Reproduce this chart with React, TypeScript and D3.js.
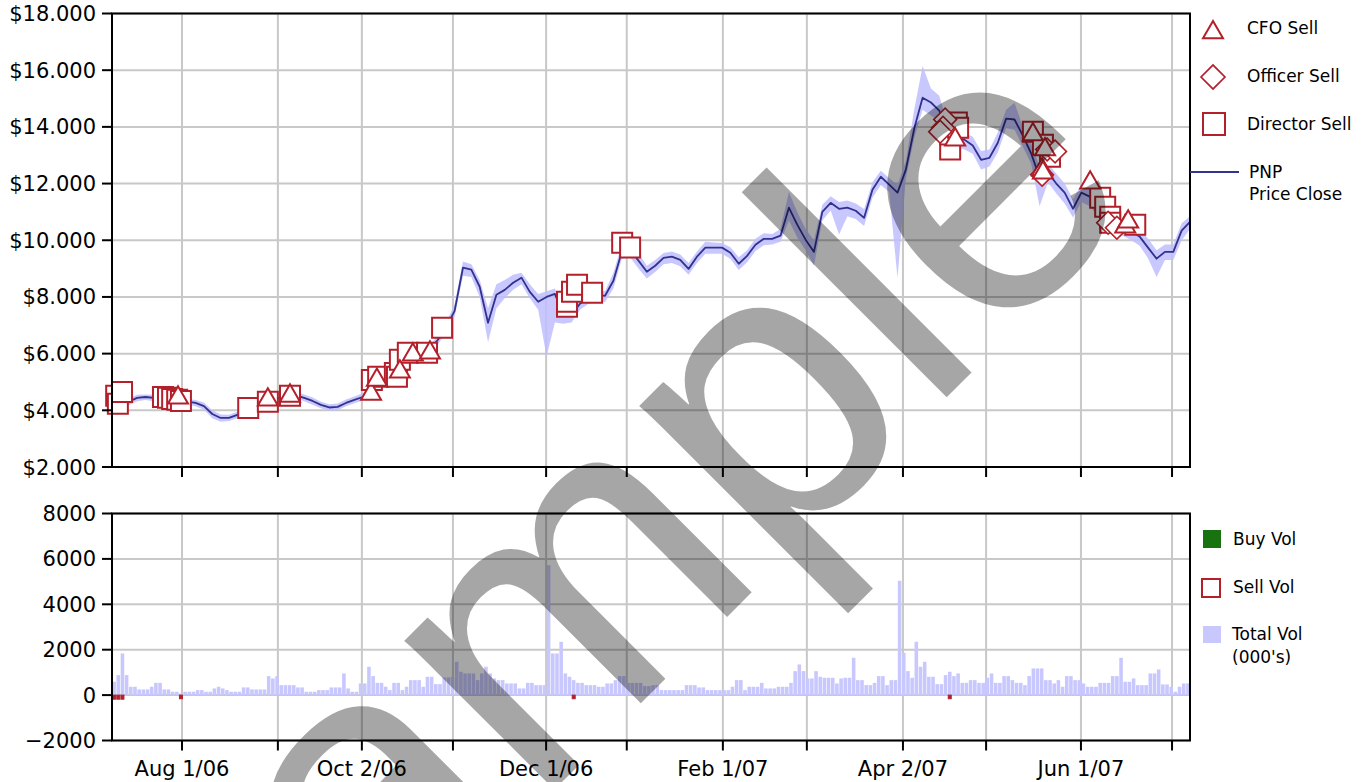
import React from 'react';
import * as d3 from 'd3';

// ---------- DATA ----------
const TOTAL_DAYS = 258; // trading days on the x axis

// month gridlines (trading-day index) and their labels
const monthTickDays = [16.75, 39.7, 59.8, 81.6, 103.9, 123.2, 146.2, 166.3, 189.3, 209.2, 231.9, 253.7];
const monthTickLabels = ['Aug 1/06', '', 'Oct 2/06', '', 'Dec 1/06', '', 'Feb 1/07', '', 'Apr 2/07', '', 'Jun 1/07', ''];

const priceTicks = [2, 4, 6, 8, 10, 12, 14, 16, 18];
const volumeTicks = [-2000, 0, 2000, 4000, 6000, 8000];

// close price sampled every 2 trading days
const PRICE_STEP = 2;
const closePrices = [
  4.14, 4.30, 4.30, 4.44, 4.47, 4.44, 4.37, 4.33, 4.33, 4.31,
  4.26, 4.15, 3.87, 3.73, 3.73, 3.84, 3.91, 3.98, 4.12, 4.30,
  4.44, 4.47, 4.53, 4.44, 4.33, 4.19, 4.10, 4.12, 4.26, 4.37,
  4.47, 4.72, 5.11, 5.25, 5.46, 5.67, 5.89, 5.99, 6.13, 6.49,
  6.94, 7.51, 9.03, 8.96, 8.36, 7.09, 8.08, 8.25, 8.50, 8.68,
  8.18, 7.83, 8.00, 8.11, 7.37, 7.37, 7.76, 7.97, 8.08, 8.04,
  8.57, 9.59, 9.66, 9.28, 8.89, 9.10, 9.38, 9.42, 9.31, 8.99,
  9.42, 9.74, 9.74, 9.74, 9.56, 9.17, 9.45, 9.84, 10.05, 10.05,
  10.16, 11.15, 10.55, 10.02, 9.59, 11.00, 11.32, 11.11, 11.15, 11.04,
  10.79, 11.78, 12.24, 11.96, 11.68, 12.49, 13.94, 15.03, 14.86, 14.57,
  13.76, 13.62, 13.55, 13.34, 12.84, 12.91, 13.44, 14.29, 14.26, 13.69,
  13.06, 12.21, 12.38, 12.00, 11.68, 11.11, 11.68, 11.54, 11.18, 10.90,
  10.62, 10.44, 10.30, 10.12, 9.73, 9.35, 9.59, 9.59, 10.34, 10.65,
];
const highPrices = [
  4.25, 4.40, 4.42, 4.55, 4.56, 4.55, 4.48, 4.43, 4.42, 4.40,
  4.36, 4.28, 4.00, 3.85, 3.84, 3.95, 4.02, 4.10, 4.24, 4.42,
  4.55, 4.58, 4.64, 4.56, 4.45, 4.30, 4.21, 4.24, 4.38, 4.49,
  4.60, 4.85, 5.25, 5.38, 5.60, 5.80, 6.02, 6.12, 6.27, 6.65,
  7.10, 7.75, 9.25, 9.15, 8.60, 7.60, 8.45, 8.60, 8.78, 8.85,
  8.45, 8.10, 8.20, 8.30, 7.60, 7.55, 7.95, 8.15, 8.25, 8.20,
  8.85, 9.85, 9.85, 9.55, 9.10, 9.30, 9.55, 9.60, 9.50, 9.20,
  9.60, 9.95, 9.92, 9.90, 9.75, 9.40, 9.65, 10.05, 10.25, 10.22,
  10.40, 11.70, 11.00, 10.40, 10.00, 11.25, 11.55, 11.35, 11.40, 11.30,
  11.10, 12.05, 12.45, 12.20, 11.95, 12.80, 14.60, 16.15, 15.35, 15.10,
  14.10, 13.90, 13.80, 13.65, 13.15, 13.20, 13.80, 14.60, 14.85, 14.00,
  13.40, 12.60, 12.70, 12.35, 12.00, 11.45, 11.95, 11.80, 11.45, 11.15,
  10.90, 10.70, 10.55, 10.40, 10.05, 9.65, 9.85, 9.85, 10.60, 10.85,
];
const lowPrices = [
  4.02, 4.18, 4.18, 4.32, 4.36, 4.32, 4.25, 4.21, 4.22, 4.20,
  4.14, 4.02, 3.72, 3.60, 3.62, 3.72, 3.80, 3.86, 4.00, 4.18,
  4.32, 4.36, 4.42, 4.32, 4.20, 4.07, 3.98, 4.00, 4.14, 4.25,
  4.35, 4.60, 4.95, 5.12, 5.32, 5.52, 5.75, 5.86, 6.00, 6.32,
  6.75, 7.30, 8.75, 8.70, 8.00, 6.40, 7.60, 7.95, 8.25, 8.45,
  7.95, 7.55, 5.90, 7.10, 7.05, 7.10, 7.55, 7.75, 7.85, 7.82,
  8.30, 9.35, 9.40, 9.00, 8.65, 8.88, 9.15, 9.20, 9.08, 8.78,
  9.20, 9.52, 9.52, 9.52, 9.35, 8.95, 9.22, 9.62, 9.82, 9.85,
  9.95, 10.70, 10.10, 9.65, 9.10, 10.70, 11.05, 10.20, 10.85, 10.75,
  10.50, 11.50, 11.95, 11.70, 8.67, 12.20, 13.60, 14.60, 14.40, 14.20,
  13.40, 13.30, 13.20, 13.05, 12.50, 12.60, 13.10, 13.95, 13.90, 13.30,
  12.70, 11.20, 12.05, 11.65, 11.30, 10.80, 11.35, 11.20, 10.85, 10.60,
  10.30, 10.15, 10.00, 9.80, 9.35, 8.70, 9.30, 9.30, 10.00, 10.40,
];

// total daily volume (000's), one per trading day
const totalVolume = [
  590, 880, 1835, 880, 367, 367, 250, 250, 250, 367,
  540, 540, 250, 250, 147, 147, 73, 147, 147, 147,
  220, 220, 147, 147, 294, 367, 294, 220, 147, 147,
  147, 338, 338, 250, 250, 250, 250, 837, 734, 837,
  440, 440, 440, 440, 338, 338, 147, 147, 147, 220,
  220, 220, 338, 338, 338, 954, 294, 147, 147, 514,
  514, 1248, 837, 540, 540, 367, 220, 540, 540, 220,
  367, 660, 660, 660, 367, 807, 807, 484, 484, 778,
  778, 807, 1468, 1028, 954, 954, 954, 660, 954, 1248,
  954, 734, 660, 660, 514, 514, 514, 294, 294, 540,
  540, 440, 440, 440, 5725, 1835, 1835, 2350, 954, 807,
  660, 540, 540, 440, 440, 440, 367, 367, 514, 514,
  660, 837, 837, 540, 540, 540, 540, 400, 400,
  440, 440, 220, 220, 220, 220, 220, 220, 440, 440,
  440, 338, 338, 220, 220, 220, 220, 220, 220, 367,
  660, 660, 220, 367, 367, 367, 540, 294, 294, 294,
  367, 367, 367, 540, 1057, 1350, 1057, 734, 734, 1057,
  807, 763, 763, 763, 514, 734, 763, 763, 1644, 660,
  660, 440, 440, 540, 837, 837, 440, 660, 660, 5035,
  1864, 1057, 763, 2350, 1248, 1468, 807, 807, 484, 484,
  880, 1028, 837, 954, 540, 540, 660, 660, 540, 540,
  763, 954, 540, 540, 837, 837, 660, 540, 540, 440,
  837, 1174, 1174, 1174, 660, 660, 514, 660, 367, 837,
  837, 660, 660, 514, 367, 367, 367, 540, 540, 540,
  837, 837, 1644, 587, 587, 734, 440, 440, 440, 954,
  954, 1130, 470, 470, 367, 147, 367, 514, 514,
];
const sellVolumeDays = [0, 1, 2, 16, 110, 200];
const sellVolumeValues = [180, 180, 180, 160, 160, 160];

// insider transactions: [trading day, price]
const directorSells: [number, number][] = [
  [1.0, 4.51], [1.4, 4.23], [2.4, 4.65], [12.2, 4.47], [13.4, 4.44], [14.4, 4.40], [15.6, 4.37], [16.5, 4.33],
  [32.6, 4.08], [37.3, 4.30], [42.6, 4.51], [62.2, 5.07], [63.7, 5.18], [67.7, 5.32], [68.2, 5.18], [68.9, 5.78],
  [70.8, 6.03], [75.4, 6.03], [79.0, 6.91], [108.9, 7.65], [108.9, 7.83], [110.1, 8.18], [111.3, 8.43], [114.9, 8.15],
  [122.1, 9.91], [124.0, 9.74], [200.6, 13.20], [200.6, 13.73], [202.2, 14.15], [202.5, 13.97], [220.4, 13.83],
  [222.8, 13.37], [224.5, 12.95], [236.5, 11.50], [237.7, 11.18], [238.9, 10.83], [238.9, 10.62], [244.9, 10.55],
];
const officerSells: [number, number][] = [
  [199.4, 14.26], [198.9, 13.97], [198.2, 13.83], [223.8, 13.20], [225.7, 13.13], [222.6, 12.31], [238.4, 10.62], [240.5, 10.44],
];
const cfoSells: [number, number][] = [
  [15.8, 4.44], [37.3, 4.37], [42.6, 4.51], [62.0, 4.58], [63.4, 5.07], [68.9, 5.36], [72.0, 5.96], [76.1, 6.03],
  [201.8, 13.55], [220.4, 13.73], [223.3, 13.20], [222.6, 12.49], [222.8, 12.38], [234.1, 12.03], [242.5, 10.48], [243.2, 10.65],
];

// ---------- STYLE ----------
const RED = '#b3202b';
const NAVY = '#31318e';
const GRID = '#c8c8c8';
const VOL_FILL = '#c8c8ff';
const FONT = 'DejaVu Sans, Verdana, sans-serif';

export default function App() {
  const L = 112, R = 1190;
  const x = d3.scaleLinear().domain([0, TOTAL_DAYS]).range([L, R]);
  const yP = d3.scaleLinear().domain([2, 18]).range([467, 13.5]);
  const yV = d3.scaleLinear().domain([-2000, 8000]).range([740.5, 513.5]);
  const bw = x(1) - x(0);

  const idx = closePrices.map((_, i) => i);
  const band = d3.area<number>()
    .x((i) => x(i * PRICE_STEP))
    .y0((i) => yP(lowPrices[i]))
    .y1((i) => yP(highPrices[i]));
  const line = d3.line<number>()
    .x((i) => x(i * PRICE_STEP))
    .y((i) => yP(closePrices[i]));

  const sq = d3.symbol(d3.symbolSquare, 400)()!;
  const sqLeg = d3.symbol(d3.symbolSquare, 484)()!;
  const dia = d3.symbol(d3.symbolSquare, 260)()!;
  const diaLeg = d3.symbol(d3.symbolSquare, 288)()!;
  const tri = d3.symbol(d3.symbolTriangle, 173)()!;
  const fmtVol = d3.format('d');

  const panels = [
    { top: yP.range()[1], bottom: yP.range()[0] },
    { top: yV.range()[1], bottom: yV.range()[0] },
  ];

  return (
    <svg width={1366} height={782} style={{ position: 'absolute', left: 0, top: 0, background: '#fff' }}
      fontFamily={FONT}>
      <rect x={0} y={0} width={1366} height={782} fill="#fff" />

      {/* grids */}
      {priceTicks.map((t) => (
        <line key={'pg' + t} x1={L} x2={R} y1={yP(t)} y2={yP(t)} stroke={GRID} strokeWidth={2} />
      ))}
      {volumeTicks.map((t) => (
        <line key={'vg' + t} x1={L} x2={R} y1={yV(t)} y2={yV(t)} stroke={GRID} strokeWidth={2} />
      ))}
      {panels.map((p, pi) =>
        monthTickDays.map((d) => (
          <g key={'mg' + pi + d}>
            <line x1={x(d)} x2={x(d)} y1={p.top} y2={p.bottom} stroke={GRID} strokeWidth={2} />
            <line x1={x(d)} x2={x(d)} y1={p.bottom} y2={p.bottom + 10} stroke="#000" strokeWidth={2} />
          </g>
        ))
      )}

      {/* price band + line */}
      <path d={band(idx)!} fill="rgb(190,190,255)" fillOpacity={0.85} />
      <path d={line(idx)!} fill="none" stroke={NAVY} strokeWidth={1.8} strokeLinejoin="round" />

      {/* insider markers */}
      {directorSells.map(([d, p], i) => (
        <path key={'ds' + i} d={sq} transform={`translate(${x(d)},${yP(p)})`} fill="#fff" stroke={RED} strokeWidth={2} />
      ))}
      {officerSells.map(([d, p], i) => (
        <path key={'os' + i} d={dia} transform={`translate(${x(d)},${yP(p)}) rotate(45)`} fill="#fff" stroke={RED} strokeWidth={1.6} />
      ))}
      {cfoSells.map(([d, p], i) => (
        <path key={'cs' + i} d={tri} transform={`translate(${x(d)},${yP(p)})`} fill="#fff" stroke={RED} strokeWidth={2} />
      ))}

      {/* volume bars */}
      {totalVolume.map((v, i) => (
        <rect key={'v' + i} x={x(i) + 0.3} width={bw - 0.6} y={yV(v)} height={yV(0) - yV(v)} fill={VOL_FILL} />
      ))}
      {sellVolumeDays.map((d, i) => (
        <rect key={'sv' + i} x={x(d) + 0.6} width={bw - 1.2} y={yV(0)} height={yV(-sellVolumeValues[i]) - yV(0)}
          fill={RED} stroke={RED} strokeWidth={1} />
      ))}

      {/* frames */}
      {panels.map((p, pi) => (
        <rect key={'fr' + pi} x={L} y={p.top} width={R - L} height={p.bottom - p.top} fill="none" stroke="#000" strokeWidth={2} />
      ))}

      {/* y axes */}
      {priceTicks.map((t) => (
        <g key={'pt' + t}>
          <line x1={L - 10} x2={L} y1={yP(t)} y2={yP(t)} stroke="#000" strokeWidth={2} />
          <text x={96} y={yP(t)} dy="0.36em" textAnchor="end" fontSize={21} fill="#000">{`$${t.toFixed(3)}`}</text>
        </g>
      ))}
      {volumeTicks.map((t) => (
        <g key={'vt' + t}>
          <line x1={L - 10} x2={L} y1={yV(t)} y2={yV(t)} stroke="#000" strokeWidth={2} />
          <text x={96} y={yV(t)} dy="0.36em" textAnchor="end" fontSize={21} fill="#000">{fmtVol(t)}</text>
        </g>
      ))}

      {/* x labels */}
      {monthTickDays.map((d, i) =>
        monthTickLabels[i] ? (
          <text key={'xl' + i} x={x(d)} y={776} textAnchor="middle" fontSize={21} fill="#000">{monthTickLabels[i]}</text>
        ) : null
      )}

      {/* legend: price panel */}
      <g fontSize={17} fill="#000">
        <path d={tri} transform="translate(1213,32.5)" fill="#fff" stroke={RED} strokeWidth={2} />
        <text x={1247} y={28} dy="0.36em">CFO Sell</text>
        <path d={diaLeg} transform="translate(1213,77) rotate(45)" fill="#fff" stroke={RED} strokeWidth={1.6} />
        <text x={1247} y={76} dy="0.36em">Officer Sell</text>
        <path d={sqLeg} transform="translate(1214,124)" fill="#fff" stroke={RED} strokeWidth={2} />
        <text x={1247} y={124} dy="0.36em">Director Sell</text>
        <line x1={1190} x2={1239} y1={172} y2={172} stroke={NAVY} strokeWidth={2} />
        <text x={1249} y={172} dy="0.36em">PNP</text>
        <text x={1249} y={194} dy="0.36em">Price Close</text>
      </g>

      {/* legend: volume panel */}
      <g fontSize={17} fill="#000">
        <rect x={1203} y={530} width={18} height={18} fill="#17720f" />
        <text x={1233} y={539} dy="0.36em">Buy Vol</text>
        <rect x={1202} y={579} width={18} height={18} fill="#fff" stroke={RED} strokeWidth={2} />
        <text x={1233} y={587} dy="0.36em">Sell Vol</text>
        <rect x={1203} y={626} width={18} height={17} fill={VOL_FILL} />
        <text x={1232} y={634} dy="0.36em">Total Vol</text>
        <text x={1232} y={657} dy="0.36em">(000's)</text>
      </g>

      {/* watermark */}
      <text transform="translate(236,1108) rotate(-45)" fontSize={400}
        fontFamily="Liberation Sans, Arial, sans-serif" fill="#000" fillOpacity={0.35}>sample</text>
    </svg>
  );
}
